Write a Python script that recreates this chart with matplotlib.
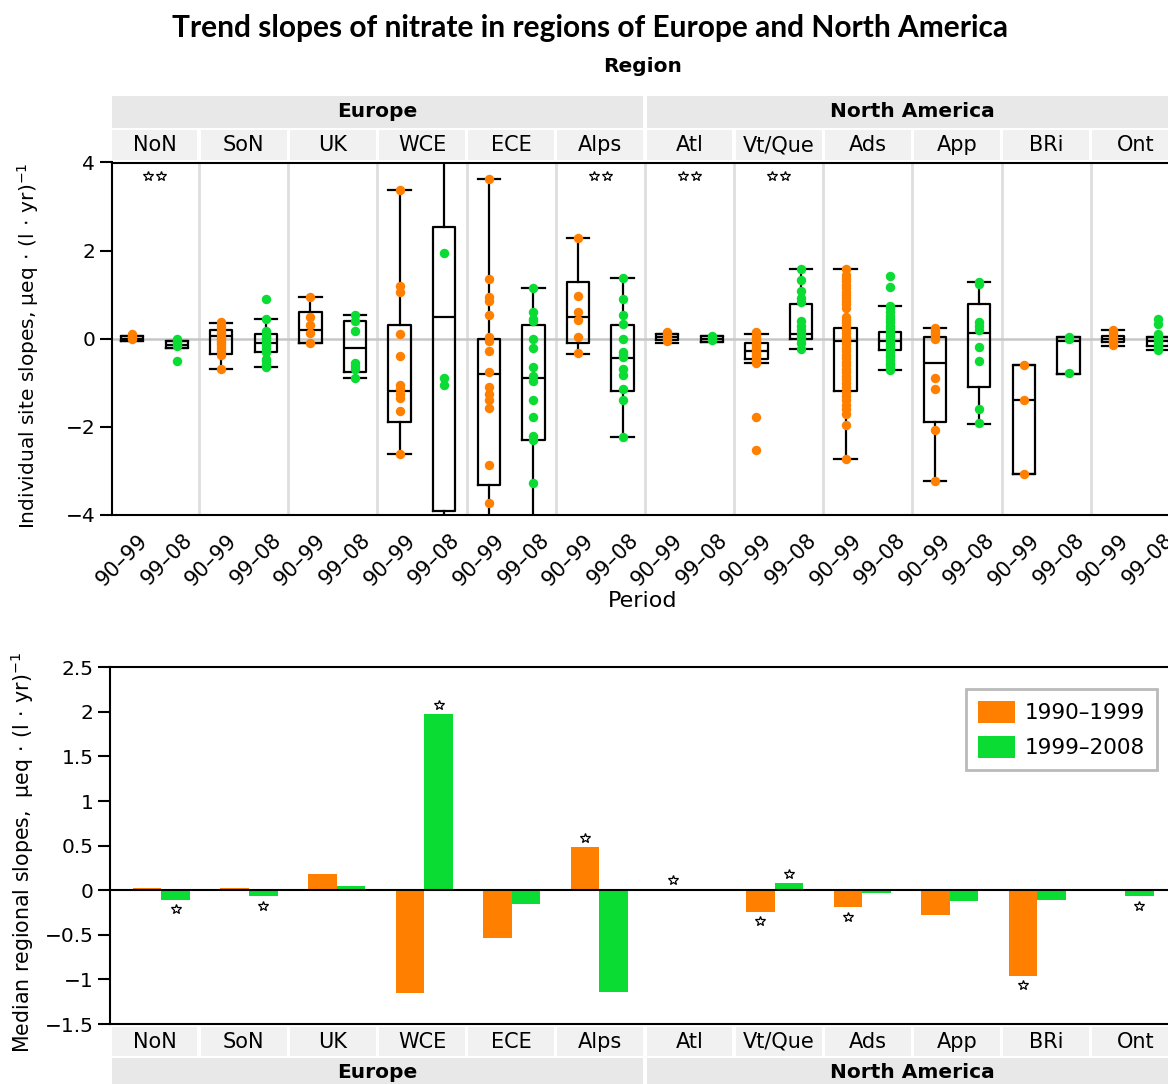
import numpy as np
import matplotlib.pyplot as plt
from matplotlib.patches import Rectangle
from matplotlib.transforms import offset_copy

# ---- data -------------------------------------------------------------
regions = ["NoN", "SoN", "UK", "WCE", "ECE", "Alps",
           "Atl", "Vt/Que", "Ads", "App", "BRi", "Ont"]
continents = ["Europe", "North America"]
continent_span = [(0, 6), (6, 12)]
periods = ["90–99", "99–08"]
legend_labels = ["1990–1999", "1999–2008"]

# individual site slopes, 1990-1999
sites_a = [
    [0.1, 0.06, 0.03, 0.0],
    [0.38, 0.3, 0.22, 0.15, 0.1, 0.05, 0.0, -0.05, -0.1, -0.15, -0.2, -0.28, -0.38, -0.69],
    [0.95, 0.5, 0.31, 0.12, -0.09],
    [3.37, 1.2, 1.07, 0.1, -0.4, -1.05, -1.15, -1.25, -1.35, -1.65, -2.62],
    [3.62, 1.35, 0.95, 0.85, 0.55, 0.05, -0.05, -0.28, -0.75, -1.1, -1.25, -1.4, -1.57, -2.87, -3.72],
    [2.29, 0.97, 0.6, 0.42, 0.03, -0.32],
    [0.15, 0.1, 0.05, 0.0, -0.05],
    [0.15, 0.1, 0.05, 0.0, -0.05, -0.1, -0.15, -0.2, -0.25, -0.3, -0.35, -0.4, -0.45, -0.5, -0.55, -1.77, -2.52],
    [1.59, 1.45, 1.38, 1.3, 1.22, 1.15, 1.07, 1.0, 0.92, 0.85, 0.78, 0.7, 0.5, 0.42, 0.35, 0.28, 0.2,
     0.12, 0.05, 0.0, -0.05, -0.12, -0.2, -0.28, -0.36, -0.44, -0.52, -0.6, -0.68, -0.76, -0.84,
     -0.92, -1.0, -1.1, -1.2, -1.3, -1.4, -1.5, -1.6, -1.7, -1.95, -2.73],
    [0.25, 0.2, 0.15, 0.1, 0.05, 0.0, -0.9, -1.15, -2.07, -3.23],
    [-0.59, -1.38, -3.07],
    [0.2, 0.15, 0.1, 0.05, 0.0, -0.05, -0.1, -0.15],
]
# individual site slopes, 1999-2008
sites_b = [
    [0.0, -0.04, -0.08, -0.12, -0.16, -0.5],
    [0.9, 0.45, 0.18, 0.1, 0.05, 0.0, -0.05, -0.1, -0.15, -0.2, -0.3, -0.45, -0.5, -0.6, -0.65],
    [0.55, 0.4, 0.18, -0.55, -0.62, -0.68, -0.9],
    [1.95, -0.88, -1.04],
    [1.15, 0.6, 0.45, 0.4, 0.0, -0.2, -0.65, -0.85, -0.95, -1.4, -1.77, -2.2, -2.3, -3.27],
    [1.39, 0.9, 0.55, 0.34, 0.0, -0.3, -0.38, -0.42, -0.68, -0.83, -1.15, -1.4, -2.23],
    [0.06, 0.03, 0.0, -0.03],
    [1.59, 1.33, 1.08, 0.93, 0.83, 0.4, 0.3, 0.2, 0.1, 0.05, 0.0, -0.1, -0.24],
    [1.43, 1.18, 0.75, 0.7, 0.6, 0.52, 0.45, 0.38, 0.3, 0.24, 0.18, 0.12, 0.06, 0.0, -0.06, -0.12,
     -0.18, -0.24, -0.3, -0.36, -0.42, -0.48, -0.54, -0.6, -0.66, -0.7],
    [1.29, 1.25, 0.37, 0.3, 0.2, -0.18, -0.5, -1.6, -1.92],
    [0.05, 0.0, -0.77],
    [0.44, 0.33, 0.1, 0.05, 0.0, -0.05, -0.1, -0.15, -0.2, -0.25],
]

# box statistics
q1_a = [-0.06, -0.35, -0.1, -1.89, -3.32, -0.1, -0.02, -0.45, -1.19, -1.88, -3.07, -0.07]
med_a = [0.0, 0.06, 0.2, -1.18, -0.8, 0.5, 0.05, -0.28, -0.05, -0.54, -1.38, 0.0]
q3_a = [0.06, 0.2, 0.6, 0.31, 0.0, 1.28, 0.1, -0.09, 0.25, 0.05, -0.59, 0.06]
lo_a = [-0.06, -0.69, -0.1, -2.62, -4.5, -0.34, -0.09, -0.55, -2.73, -3.23, -3.07, -0.16]
hi_a = [0.06, 0.35, 0.95, 3.37, 3.62, 2.29, 0.1, 0.1, 1.59, 0.25, -0.59, 0.2]

q1_b = [-0.2, -0.3, -0.75, -3.92, -2.29, -1.18, -0.07, 0.0, -0.26, -1.1, -0.79, -0.17]
med_b = [-0.15, -0.09, -0.2, 0.5, -0.9, -0.44, 0.0, 0.1, -0.05, 0.14, -0.05, -0.05]
q3_b = [-0.05, 0.1, 0.4, 2.53, 0.31, 0.31, 0.06, 0.8, 0.16, 0.79, 0.05, 0.05]
lo_b = [-0.2, -0.65, -0.9, -4.5, -4.5, -2.23, -0.07, -0.24, -0.7, -1.94, -0.79, -0.26]
hi_b = [-0.05, 0.45, 0.55, 5.0, 1.15, 1.39, 0.06, 1.59, 0.75, 1.29, 0.05, 0.05]

# significant difference between periods (double star)
sig_sites = [True, False, False, False, False, True, True, True, False, False, False, False]

# median regional slopes
median_a = [0.023, 0.023, 0.177, -1.15, -0.534, 0.49, 0.015, -0.24, -0.188, -0.28, -0.96, -0.008]
median_b = [-0.105, -0.07, 0.045, 1.98, -0.158, -1.14, 0.0, 0.086, -0.026, -0.124, -0.11, -0.068]
sig_a = [False, False, False, False, False, True, True, True, True, False, True, False]
sig_b = [True, True, False, True, False, False, False, True, False, False, False, True]

# ---- style --------------------------------------------------------------
ORANGE = "#ff8000"
GREEN = "#0adc34"
BAND = "#e8e8e8"
CELL = "#f1f1f1"
plt.rcParams["font.family"] = ["DejaVu Sans"]
plt.rcParams["axes.linewidth"] = 1.5

W, H = 1168, 1084
fig = plt.figure(figsize=(W / 100, H / 100), dpi=100)


def px_axes(x0, y0, x1, y1):
    return fig.add_axes([x0 / W, 1 - y1 / H, (x1 - x0) / W, (y1 - y0) / H])


n = len(regions)
XL = (0.0247, 12.0)   # top grid: column i spans [i, i+1]


def strip_cells(ax, labels, size=15):
    ax.set_xlim(*XL)
    ax.set_ylim(0, 1)
    ax.axis("off")
    for i, lab in enumerate(labels):
        ax.add_patch(Rectangle((i + 0.018, 0), 0.964, 1, color=CELL, lw=0))
        ax.text(i + 0.5, 0.5, lab, ha="center", va="center", fontsize=size)


def strip_band(ax, extend=1.0):
    ax.set_xlim(*XL)
    ax.set_ylim(0, 1)
    ax.axis("off")
    for lab, (a, b) in zip(continents, continent_span):
        ax.add_patch(Rectangle((a + 0.025, 1 - extend), b - a - 0.05, extend,
                               color=BAND, lw=0, clip_on=False))
        ax.text((a + b) / 2, 0.5, lab, ha="center", va="center", fontsize=14.5,
                fontweight="bold")


# ---- top panel: individual sites --------------------------------------
ax = px_axes(112, 162.5, 1180, 515)
strip_band(px_axes(112, 96, 1180, 127.5))
strip_cells(px_axes(112, 130, 1180, 160), regions)

ax.set_xlim(*XL)
ax.set_ylim(-4, 4)
for i in range(1, n):
    ax.axvline(i, color="#dedede", lw=2, zorder=0)
ax.axhline(0, color="#c6c6c6", lw=1.8, zorder=0)

pos_a = np.arange(n) + 0.25
pos_b = np.arange(n) + 0.75
for pos, q1, med, q3, lo, hi in [(pos_a, q1_a, med_a, q3_a, lo_a, hi_a),
                                 (pos_b, q1_b, med_b, q3_b, lo_b, hi_b)]:
    stats = [dict(q1=q1[i], med=med[i], q3=q3[i], whislo=lo[i], whishi=hi[i], fliers=[])
             for i in range(n)]
    lp = dict(color="black", lw=1.6)
    ax.bxp(stats, positions=pos, widths=0.25, capwidths=0.25, showfliers=False,
           boxprops=lp, whiskerprops=lp, capprops=lp, medianprops=lp,
           manage_ticks=False, zorder=2)

for i in range(n):
    ax.plot(np.full(len(sites_a[i]), pos_a[i]), sites_a[i], "o", color=ORANGE,
            ms=6.8, mec="none", zorder=4)
    ax.plot(np.full(len(sites_b[i]), pos_b[i]), sites_b[i], "o", color=GREEN,
            ms=6.8, mec="none", zorder=4)
    if sig_sites[i]:
        ax.plot([i + 0.427, i + 0.573], [3.69, 3.69], "*", ls="none", mfc="white",
                mec="black", ms=7, mew=0.9, zorder=5)

ax.set_xticks(np.concatenate([pos_a, pos_b]) + 0.06)
ax.set_xticklabels([periods[0]] * n + [periods[1]] * n, rotation=45,
                   ha="right", va="top", rotation_mode="anchor", fontsize=15)
ax.tick_params(axis="x", length=0, pad=11)
ax.set_yticks([-4, -2, 0, 2, 4])
ax.set_yticklabels(["−4", "−2", "0", "2", "4"], fontsize=14.5)
ax.tick_params(axis="y", direction="out", length=9, width=1.5, pad=3)
ax.spines["right"].set_visible(False)

fig.text(590 / W, 1 - 28 / H, "Trend slopes of nitrate in regions of Europe and North America",
         ha="center", va="center", fontsize=21.5, fontweight="bold", family="Lato")
fig.text(643 / W, 1 - 67 / H, "Region", ha="center", va="center", fontsize=14.5,
         fontweight="bold")
fig.text(643 / W, 1 - 601 / H, "Period", ha="center", va="center", fontsize=16)
fig.text(28 / W, 1 - 346 / H, r"Individual site slopes, μeq$\,\cdot\,$(l$\,\cdot\,$yr)$^{-1}$",
         ha="center", va="center", rotation=90, fontsize=14.5)

# ---- bottom panel: regional medians ------------------------------------
bx = px_axes(110, 667.3, 1180.3, 1024)
strip_cells(px_axes(112, 1027, 1180, 1056), regions)
strip_band(px_axes(112, 1058, 1180, 1086), extend=2.0)

x = np.arange(n)
w = 0.326
bx.set_xlim(-0.587, 11.63)
bx.set_ylim(-1.5, 2.5)
bx.bar(x - w / 2, median_a, w, color=ORANGE, label=legend_labels[0], zorder=2)
bx.bar(x + w / 2, median_b, w, color=GREEN, label=legend_labels[1], zorder=2)
bx.axhline(0, color="black", lw=1.5, zorder=3)

up = offset_copy(bx.transData, fig=fig, y=8.5, units="dots")
down = offset_copy(bx.transData, fig=fig, y=-9.5, units="dots")
for xs, vals, sig in [(x - w / 2, median_a, sig_a), (x + w / 2, median_b, sig_b)]:
    for xi, v, s in zip(xs, vals, sig):
        if s:
            bx.plot(xi, v, "*", mfc="white", mec="black", ms=7, mew=0.9,
                    transform=up if v >= 0 else down, zorder=5)

bx.set_xticks([])
bx.set_yticks([-1.5, -1, -0.5, 0, 0.5, 1, 1.5, 2, 2.5])
bx.set_yticklabels([f"{v:g}".replace("-", "−") for v in bx.get_yticks()], fontsize=14.5)
bx.tick_params(axis="y", direction="out", length=9, width=1.5, pad=3)
bx.spines["right"].set_visible(False)

leg = bx.legend(loc="upper right", bbox_to_anchor=(1157 / W, 1 - 689 / H),
                bbox_transform=fig.transFigure, borderaxespad=0, fontsize=15.5,
                handlelength=1.75, handleheight=1.2, handletextpad=0.45,
                labelspacing=0.6, borderpad=0.55, fancybox=False)
leg.get_frame().set_edgecolor("#a8a8a8")
leg.get_frame().set_linewidth(2)

fig.text(22 / W, 1 - 852 / H, r"Median regional slopes,  μeq$\,\cdot\,$(l$\,\cdot\,$yr)$^{-1}$",
         ha="center", va="center", rotation=90, fontsize=14.8)

fig.savefig("out.png", dpi=100)
